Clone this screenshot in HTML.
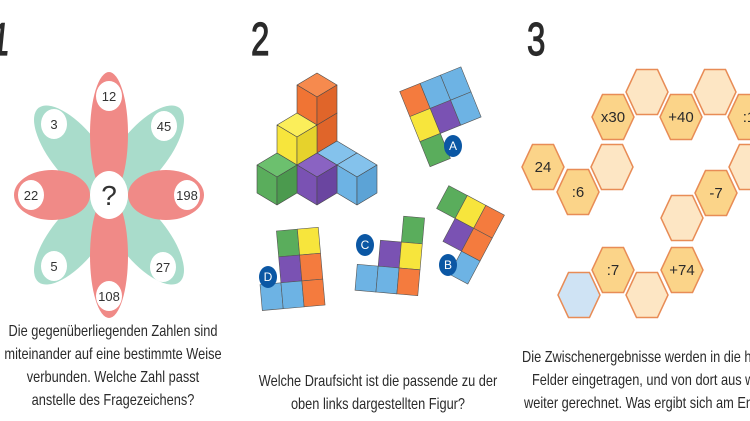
<!DOCTYPE html>
<html><head><meta charset="utf-8"><style>
html,body{margin:0;padding:0;background:#fff;width:750px;height:421px;overflow:hidden}
svg{display:block}
text{font-family:"Liberation Sans",sans-serif}
</style></head><body>
<svg id="s" width="750" height="421" viewBox="0 0 750 421" xmlns="http://www.w3.org/2000/svg">
<g font-size="46" fill="#2a2a2a" stroke="#2a2a2a" stroke-width="1.2">
<text transform="translate(-10,55) scale(0.72,1) skewX(-8)">1</text>
<text transform="translate(251,55) scale(0.72,1)">2</text>
<text transform="translate(527,55) scale(0.72,1)">3</text>
</g>
<!-- flower -->
<g>
<ellipse cx="75" cy="153" rx="58" ry="24" fill="#a9dccb" transform="rotate(51 75 153)"/>
<ellipse cx="143" cy="153" rx="58" ry="24" fill="#a9dccb" transform="rotate(-51 143 153)"/>
<ellipse cx="75" cy="237" rx="58" ry="24" fill="#a9dccb" transform="rotate(-51 75 237)"/>
<ellipse cx="143" cy="237" rx="58" ry="24" fill="#a9dccb" transform="rotate(51 143 237)"/>
<ellipse cx="109" cy="134" rx="19" ry="62" fill="#f08a87"/>
<ellipse cx="109" cy="256" rx="19" ry="62" fill="#f08a87"/>
<ellipse cx="52" cy="195" rx="38" ry="25" fill="#f08a87"/>
<ellipse cx="166" cy="195" rx="38" ry="25" fill="#f08a87"/>
<g fill="#fff">
<ellipse cx="109" cy="96" rx="13" ry="15"/><ellipse cx="54" cy="124" rx="13" ry="15"/>
<ellipse cx="164" cy="126" rx="13" ry="15"/><ellipse cx="31" cy="195" rx="13" ry="15"/>
<ellipse cx="187" cy="195" rx="13" ry="15"/><ellipse cx="54" cy="266" rx="13" ry="15"/>
<ellipse cx="163" cy="267" rx="13" ry="15"/><ellipse cx="109" cy="296" rx="13" ry="15"/>
<ellipse cx="109" cy="195" rx="19" ry="24"/>
</g>
<g font-size="13" fill="#333" text-anchor="middle">
<text x="109" y="101">12</text><text x="54" y="129">3</text><text x="164" y="131">45</text>
<text x="31" y="200">22</text><text x="187" y="200">198</text><text x="54" y="271">5</text>
<text x="163" y="272">27</text><text x="109" y="301">108</text>
<text x="109" y="205" font-size="28">?</text>
</g>
</g>
<g id="cubes" stroke="#4a4a4a" stroke-width="0.6" stroke-linejoin="round"></g>
<g stroke="#555" stroke-width="0.6">
<g transform="translate(399.7,91.6) rotate(-22)">
<rect x="0" y="0" width="22" height="27" fill="#f47b3e"/><rect x="22" y="0" width="22" height="27" fill="#6db3e4"/><rect x="44" y="0" width="22" height="27" fill="#6db3e4"/>
<rect x="0" y="27" width="22" height="27" fill="#f7e53c"/><rect x="22" y="27" width="22" height="27" fill="#7a52b3"/><rect x="44" y="27" width="22" height="27" fill="#6db3e4"/>
<rect x="0" y="54" width="22" height="27" fill="#5aad5c"/>
</g>
<g transform="translate(448.8,185.6) rotate(28)">
<rect x="0" y="0" width="21" height="26" fill="#5aad5c"/><rect x="21" y="0" width="21" height="26" fill="#f7e53c"/><rect x="42" y="0" width="21" height="26" fill="#f47b3e"/>
<rect x="21" y="26" width="21" height="26" fill="#7a52b3"/><rect x="42" y="26" width="21" height="26" fill="#f47b3e"/>
<rect x="42" y="52" width="21" height="26" fill="#6db3e4"/>
</g>
<g transform="translate(361.8,212.5) rotate(5)">
<rect x="42" y="0" width="21" height="26" fill="#5aad5c"/>
<rect x="21" y="26" width="21" height="26" fill="#7a52b3"/><rect x="42" y="26" width="21" height="26" fill="#f7e53c"/>
<rect x="0" y="52" width="21" height="26" fill="#6db3e4"/><rect x="21" y="52" width="21" height="26" fill="#6db3e4"/><rect x="42" y="52" width="21" height="26" fill="#f47b3e"/>
</g>
<g transform="translate(255.5,232.8) rotate(-5)">
<rect x="21" y="0" width="21" height="26" fill="#5aad5c"/><rect x="42" y="0" width="21" height="26" fill="#f7e53c"/>
<rect x="21" y="26" width="21" height="26" fill="#7a52b3"/><rect x="42" y="26" width="21" height="26" fill="#f47b3e"/>
<rect x="0" y="52" width="21" height="26" fill="#6db3e4"/><rect x="21" y="52" width="21" height="26" fill="#6db3e4"/><rect x="42" y="52" width="21" height="26" fill="#f47b3e"/>
</g>
</g>
<g fill="#0b57a4">
<ellipse cx="453" cy="146" rx="9" ry="11"/><ellipse cx="448" cy="265" rx="9" ry="11"/>
<ellipse cx="365" cy="245" rx="9" ry="11"/><ellipse cx="268" cy="277" rx="9" ry="11"/>
</g>
<g fill="#fff" font-size="12" text-anchor="middle">
<text x="453" y="150">A</text><text x="448" y="269">B</text><text x="365" y="249">C</text><text x="268" y="281">D</text>
</g>
<g id="hexes" stroke="#e88c56" stroke-width="1.5"></g>
<g font-size="15" fill="#2a2a2a" text-anchor="middle">
<text x="543" y="172">24</text><text x="578" y="197">:6</text><text x="613" y="122">x30</text>
<text x="681" y="122">+40</text><text x="749" y="122">:1</text><text x="716" y="198">-7</text>
<text x="682" y="275">+74</text><text x="613" y="275">:7</text>
</g>
<g font-size="16" fill="#2a2a2a" text-anchor="middle">
<text transform="translate(113,336) scale(0.8,1)">Die gegenüberliegenden Zahlen sind</text>
<text transform="translate(113,359) scale(0.8,1)">miteinander auf eine bestimmte Weise</text>
<text transform="translate(113,382) scale(0.8,1)">verbunden. Welche Zahl passt</text>
<text transform="translate(113,405) scale(0.8,1)">anstelle des Fragezeichens?</text>
<text transform="translate(378,386) scale(0.8,1)">Welche Draufsicht ist die passende zu der</text>
<text transform="translate(378,409) scale(0.8,1)">oben links dargestellten Figur?</text>
</g>
<g font-size="16" fill="#2a2a2a">
<text transform="translate(522,362) scale(0.8,1)">Die Zwischenergebnisse werden in die hellen</text>
<text transform="translate(532,385) scale(0.8,1)">Felder eingetragen, und von dort aus wird</text>
<text transform="translate(524,408) scale(0.8,1)">weiter gerechnet. Was ergibt sich am Ende?</text>
</g>
</svg>
<script>
var NS="http://www.w3.org/2000/svg";
function poly(g,pts,fill){var p=document.createElementNS(NS,"polygon");p.setAttribute("points",pts.map(function(q){return q[0].toFixed(1)+","+q[1].toFixed(1)}).join(" "));p.setAttribute("fill",fill);g.appendChild(p);}
var Ox=317,Oy=181;
function P(i,j,k){return [Ox+20*(i-j),Oy+12*(i+j)-28*k];}
var C={o:["#f68a4e","#f07434","#e0652a"],y:["#fbee5a","#f7e53c","#e6d22c"],g:["#6cc06e","#5aad5c","#4b9a4e"],p:["#8a63c2","#7a52b3","#6a45a0"],b:["#84c2ec","#6db3e4","#5ca3d6"]};
var cubes=[[-1,-1,0,"o"],[-1,-1,1,"o"],[-1,-1,2,"o"],[0,-1,0,"b"],[-1,0,0,"y"],[-1,0,1,"y"],[1,-1,0,"b"],[0,0,0,"p"],[-1,1,0,"g"]];
cubes.sort(function(a,b){return (a[0]+a[1])-(b[0]+b[1])||a[2]-b[2];});
var cg=document.getElementById("cubes");
cubes.forEach(function(c){var i=c[0],j=c[1],k=c[2],col=C[c[3]];
poly(cg,[P(i,j,k+1),P(i+1,j,k+1),P(i+1,j+1,k+1),P(i,j+1,k+1)],col[0]);
poly(cg,[P(i,j+1,k+1),P(i+1,j+1,k+1),P(i+1,j+1,k),P(i,j+1,k)],col[1]);
poly(cg,[P(i+1,j,k+1),P(i+1,j+1,k+1),P(i+1,j+1,k),P(i+1,j,k)],col[2]);});
var hg=document.getElementById("hexes");
var F="#fbd489",L="#fde6c4",B="#cfe3f4";
[[543,167,F],[578,192,F],[612,167,L],[613,117,F],[647,92,L],[681,117,F],[715,92,L],[749,117,F],[750,167,L],[716,193,F],[682,218,L],[682,270,F],[647,295,L],[613,270,F],[579,295,B]].forEach(function(h){var x=h[0],y=h[1];
poly(hg,[[x-21,y],[x-10.5,y-22.5],[x+10.5,y-22.5],[x+21,y],[x+10.5,y+22.5],[x-10.5,y+22.5]],h[2]);});
</script>
</body></html>
